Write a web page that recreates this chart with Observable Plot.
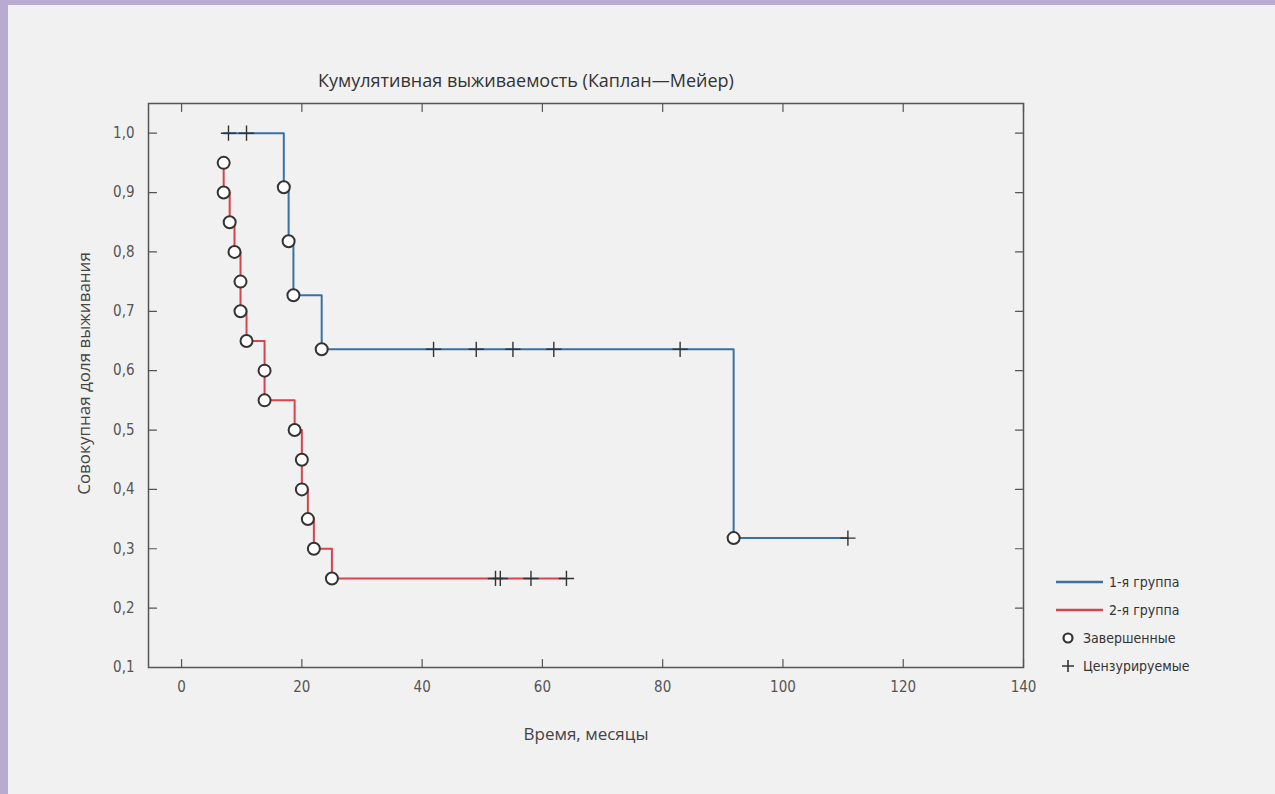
<!DOCTYPE html>
<html>
<head>
<meta charset="utf-8">
<script src="https://cdn.jsdelivr.net/npm/d3@7"></script>
<script src="https://cdn.jsdelivr.net/npm/@observablehq/plot@0.6"></script>
<style>
  html, body { margin: 0; padding: 0; }
  body { width: 1275px; height: 794px; background: #f1f1f1; position: relative; overflow: hidden; }
  #frame-left { position: absolute; left: 0; top: 0; width: 8px; height: 794px; background: #b8abd2; }
  #frame-top { position: absolute; left: 0; top: 0; width: 1275px; height: 5px; background: #b8abd2; }
  #chart { position: absolute; left: 0; top: 0; }
  #legend { position: absolute; left: 1055px; top: 568px; font-family: "Liberation Sans Narrow", "DejaVu Sans Condensed", "Open Sans", sans-serif; font-size: 14px; color: #333; }
  .item { display: flex; align-items: center; height: 28px; }
  .item svg { margin-right: 4px; }
</style>
</head>
<body>
<div id="frame-left"></div>
<div id="frame-top"></div>
<div id="chart"></div>
<div id="legend"></div>
<script>
// ---- Data ----
const title = "Кумулятивная выживаемость (Каплан—Мейер)";
const xLabel = "Время, месяцы";
const yLabel = "Совокупная доля выживания";
const groupNames = ["1-я группа", "2-я группа"];
const markerNames = ["Завершенные", "Цензурируемые"];
const groupColors = ["#3a70a3", "#d8434c"];

const xTicks = [0, 20, 40, 60, 80, 100, 120, 140];
const yTicks = [0.1, 0.2, 0.3, 0.4, 0.5, 0.6, 0.7, 0.8, 0.9, 1.0];

// Group 1
const g1StartT = 7.0, g1StartS = 1.0;
const g1EventT = [17.0, 17.8, 18.6, 23.3, 91.8];
const g1EventS = [0.909, 0.818, 0.727, 0.636, 0.318];
const g1CensT = [7.8, 10.8, 41.9, 49.0, 55.1, 61.9, 82.9, 110.8];
const g1CensS = [1.0, 1.0, 0.636, 0.636, 0.636, 0.636, 0.636, 0.318];

// Group 2
const g2EventT = [7.0, 7.0, 8.0, 8.8, 9.8, 9.8, 10.8, 13.8, 13.8, 18.8, 20.0, 20.0, 21.0, 22.0, 25.0];
const g2EventS = [0.95, 0.90, 0.85, 0.80, 0.75, 0.70, 0.65, 0.60, 0.55, 0.50, 0.45, 0.40, 0.35, 0.30, 0.25];
const g2CensT = [52.2, 53.0, 58.1, 64.0];
const g2CensS = [0.25, 0.25, 0.25, 0.25];

// ---- Build tables ----
const zip = (ts, ss, g) => ts.map((t, i) => ({t, s: ss[i], g}));
const g1Events = zip(g1EventT, g1EventS, groupNames[0]);
const g1Cens = zip(g1CensT, g1CensS, groupNames[0]);
const g2Events = zip(g2EventT, g2EventS, groupNames[1]);
const g2Cens = zip(g2CensT, g2CensS, groupNames[1]);

const g1Line = [{t: g1StartT, s: g1StartS, g: groupNames[0]}, ...g1Events, g1Cens[g1Cens.length - 1]];
const g2Line = [...g2Events, g2Cens[g2Cens.length - 1]];

const events = [...g1Events, ...g2Events];
const cens = [...g1Cens, ...g2Cens];

const tickFont = '"Liberation Sans Narrow", "DejaVu Sans Condensed", sans-serif';
const labelFont = '"Open Sans", "Noto Sans", sans-serif';

// straight tick shape for inward frame ticks
const tickShape = {draw(context, l) { context.moveTo(0, 0); context.lineTo(0, -l); }};
const inwardTicks = (data, ch, frameAnchor, rotate) =>
  Plot.vector(data, {[ch]: d => d, frameAnchor, rotate, length: 8, anchor: "start", shape: tickShape, stroke: "#555", strokeWidth: 1.2});

const plot = Plot.plot({
  width: 1275,
  height: 794,
  marginLeft: 148,
  marginRight: 252,
  marginTop: 103,
  marginBottom: 127,
  style: {background: "transparent", fontFamily: tickFont, fontSize: "15px", color: "#555"},
  x: {domain: [-5.5, 140], axis: null},
  y: {domain: [0.1, 1.05], axis: null},
  color: {domain: groupNames, range: groupColors},
  marks: [
    // inward ticks on all four sides
    inwardTicks(xTicks, "x", "bottom", 0),
    inwardTicks(xTicks, "x", "top", 180),
    inwardTicks(yTicks, "y", "left", 90),
    inwardTicks(yTicks, "y", "right", -90),
    // tick labels
    Plot.axisX({anchor: "bottom", ticks: xTicks, tickSize: 0, tickPadding: 14, label: null, tickFormat: d3.format("d"), fill: "#555", fontSize: 15}),
    Plot.axisY({anchor: "left", ticks: yTicks, tickSize: 0, tickPadding: 14, label: null, tickFormat: d => d.toFixed(1).replace(".", ","), fill: "#555", fontSize: 15}),
    Plot.frame({stroke: "#555", strokeWidth: 1.5}),
    Plot.line(g1Line, {x: "t", y: "s", stroke: "g", curve: "step-after", strokeWidth: 2}),
    Plot.line(g2Line, {x: "t", y: "s", stroke: "g", curve: "step-after", strokeWidth: 2}),
    Plot.dot(cens, {x: "t", y: "s", symbol: "plus", r: 5, stroke: "#333", strokeWidth: 1.4}),
    Plot.dot(events, {x: "t", y: "s", symbol: "circle", r: 6, fill: "white", stroke: "#333", strokeWidth: 2}),
    // titles
    Plot.text([title], {frameAnchor: "top", dx: -60, dy: -29, text: d => d, fontSize: 18, fill: "#333", fontFamily: labelFont}),
    Plot.text([xLabel], {frameAnchor: "bottom", dy: 72, text: d => d, fontSize: 17, fill: "#444", fontFamily: labelFont}),
    Plot.text([yLabel], {frameAnchor: "left", textAnchor: "middle", dx: -64, dy: -12, rotate: -90, text: d => d, fontSize: 17, fill: "#444", fontFamily: labelFont})
  ]
});
document.getElementById("chart").appendChild(plot);

// ---- Legend ----
const legend = document.getElementById("legend");
groupNames.forEach((name, i) => {
  const div = document.createElement("div");
  div.className = "item";
  div.innerHTML = `<svg width="50" height="10"><line x1="1" x2="48" y1="5" y2="5" stroke="${groupColors[i]}" stroke-width="2.5"/></svg><span>${name}</span>`;
  legend.appendChild(div);
});
const markerSvgs = [
  `<svg width="24" height="16"><circle cx="13" cy="8" r="4.5" fill="white" stroke="#333" stroke-width="2.2"/></svg>`,
  `<svg width="24" height="16"><path d="M13,2V14M7,8H19" stroke="#333" stroke-width="1.6"/></svg>`
];
markerNames.forEach((name, i) => {
  const div = document.createElement("div");
  div.className = "item";
  div.innerHTML = `${markerSvgs[i]}<span>${name}</span>`;
  legend.appendChild(div);
});
</script>
</body>
</html>
